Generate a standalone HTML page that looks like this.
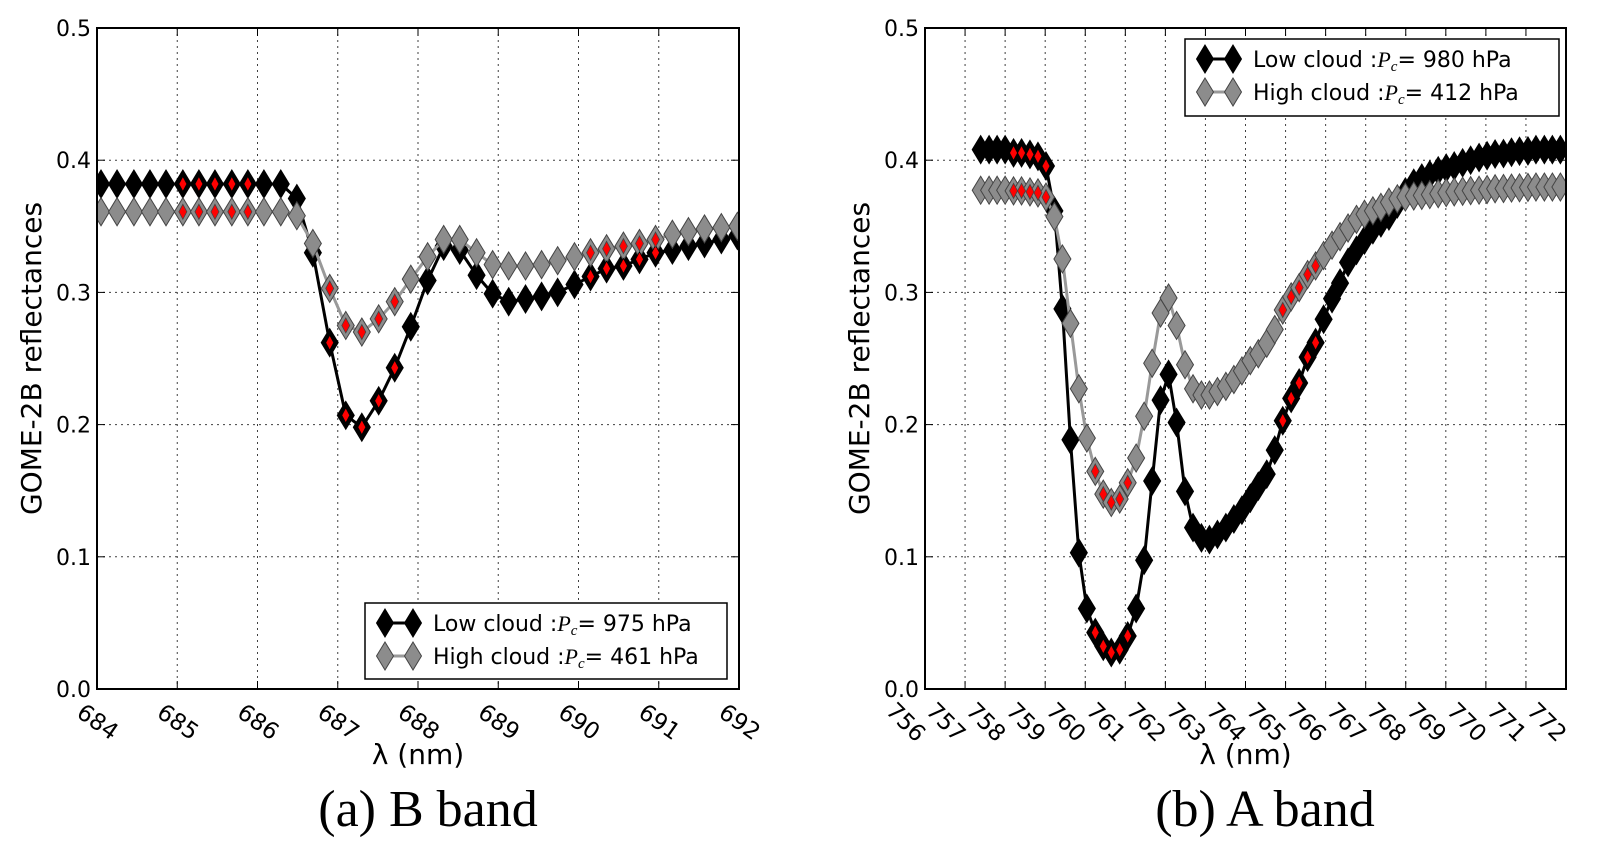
<!DOCTYPE html>
<html><head><meta charset="utf-8"><style>
html,body{margin:0;padding:0;background:#fff;}
svg{display:block;}
text{font-family:"DejaVu Sans","Liberation Sans",sans-serif;fill:#000;}
.cap{font-family:"Liberation Serif",serif;}
</style></head><body>
<svg id="fig" width="1604" height="851" viewBox="0 0 1604 851" xmlns="http://www.w3.org/2000/svg"></svg>
<script>
// ---- Panel (a) B band data ----
const bWave = [684.05,684.25,684.46,684.66,684.86,685.07,685.27,685.47,685.68,685.88,686.08,686.29,686.49,686.69,686.90,687.10,687.30,687.51,687.71,687.91,688.12,688.32,688.52,688.73,688.93,689.13,689.34,689.54,689.74,689.95,690.15,690.35,690.56,690.76,690.96,691.17,691.37,691.57,691.78,691.98];
const bLow = [0.382,0.382,0.382,0.382,0.382,0.382,0.382,0.382,0.382,0.382,0.382,0.382,0.371,0.330,0.262,0.207,0.198,0.218,0.243,0.274,0.309,0.335,0.332,0.313,0.299,0.293,0.295,0.297,0.300,0.306,0.312,0.318,0.320,0.325,0.330,0.332,0.335,0.337,0.340,0.343];
const bHigh = [0.361,0.361,0.361,0.361,0.361,0.361,0.361,0.361,0.361,0.361,0.361,0.361,0.358,0.337,0.303,0.275,0.270,0.280,0.293,0.310,0.327,0.340,0.340,0.330,0.321,0.320,0.320,0.321,0.324,0.327,0.330,0.333,0.335,0.337,0.340,0.344,0.346,0.348,0.349,0.350];
const bRed = [5,6,7,8,9,14,15,16,17,18,30,31,32,33,34];
const bTicks = [684,685,686,687,688,689,690,691,692];

// ---- Panel (b) A band data ----
const aWave = [757.39,757.60,757.80,758.00,758.21,758.41,758.62,758.82,759.02,759.23,759.43,759.63,759.84,760.04,760.25,760.45,760.65,760.86,761.06,761.27,761.47,761.67,761.88,762.08,762.28,762.49,762.69,762.90,763.10,763.30,763.51,763.71,763.91,764.12,764.32,764.53,764.73,764.93,765.14,765.34,765.55,765.75,765.95,766.16,766.36,766.56,766.77,766.97,767.18,767.38,767.58,767.79,767.99,768.20,768.40,768.60,768.81,769.01,769.21,769.42,769.62,769.83,770.03,770.23,770.44,770.64,770.84,771.05,771.25,771.46,771.66,771.86];
const aLow = [0.408,0.408,0.408,0.408,0.4055,0.4055,0.4044,0.4029,0.3956,0.3617,0.2875,0.1885,0.1031,0.0609,0.0427,0.0323,0.0276,0.0297,0.0401,0.0609,0.0974,0.1573,0.2185,0.238,0.2016,0.1495,0.1221,0.1143,0.113,0.1169,0.1221,0.1286,0.1352,0.1443,0.1534,0.1625,0.1807,0.2029,0.2198,0.2315,0.251,0.262,0.2797,0.2953,0.307,0.3227,0.3318,0.3396,0.3474,0.3526,0.3578,0.3669,0.376,0.3826,0.3865,0.389,0.392,0.394,0.3956,0.398,0.400,0.402,0.4034,0.4047,0.405,0.406,0.4068,0.407,0.408,0.408,0.408,0.408];
const aHigh = [0.3773,0.3773,0.3773,0.3773,0.3768,0.3768,0.376,0.3753,0.3721,0.3573,0.3253,0.2766,0.2271,0.1898,0.1646,0.1474,0.1411,0.1437,0.156,0.1747,0.2063,0.2464,0.2844,0.2958,0.275,0.2453,0.2271,0.2224,0.2224,0.225,0.2289,0.2341,0.2406,0.2484,0.2536,0.2615,0.2719,0.2867,0.2966,0.3036,0.3135,0.32,0.3279,0.3357,0.3422,0.3487,0.3552,0.3591,0.3617,0.3643,0.3682,0.3708,0.3721,0.3729,0.3734,0.374,0.3747,0.3755,0.376,0.3765,0.377,0.3773,0.3778,0.3784,0.3786,0.3789,0.3791,0.3794,0.3797,0.3797,0.3797,0.3797];
const aRed = [4,5,6,7,8,14,15,16,17,18,37,38,39,40,41];
const aTicks = [756,757,758,759,760,761,762,763,764,765,766,767,768,769,770,771,772];
const yTicks = [0.0,0.1,0.2,0.3,0.4,0.5];
const yTickLabels = ["0.0","0.1","0.2","0.3","0.4","0.5"];

const NS = "http://www.w3.org/2000/svg";
const svg = document.getElementById('fig');
function mk(tag, attrs, parent){
  const e = document.createElementNS(NS, tag);
  for (const k in attrs) e.setAttribute(k, attrs[k]);
  (parent||svg).appendChild(e);
  return e;
}
function diamond(cx, cy, w, h){
  return `M${cx},${cy-h/2} L${cx+w/2},${cy} L${cx},${cy+h/2} L${cx-w/2},${cy} Z`;
}

function panel(opt){
  const {id, L, R, T, B, xmin, xmax, ticks, wave, low, high, red, caption, capX, lowLabel, highLabel, leg, tickAlign} = opt;
  const g = mk('g', {});
  
  
  const xs = v => L + (v - xmin) / (xmax - xmin) * (R - L);
  const ys = v => B - v / 0.5 * (B - T);
  const clip = mk('clipPath', {id: id + '-clip'}, g);
  mk('rect', {x: L, y: T, width: R - L, height: B - T}, clip);

  const grid = mk('g', {stroke: '#000', 'stroke-width': 1, 'stroke-dasharray': '2,4', opacity: 0.75}, g);
  
  
  ticks.forEach(t => { const x = xs(t); mk('line', {x1: x, x2: x, y1: T, y2: B}, grid); });
  yTicks.forEach(t => { const y = ys(t); mk('line', {x1: L, x2: R, y1: y, y2: y}, grid); });

  const plot = mk('g', {'clip-path': `url(#${id}-clip)`}, g);
  function series(vals, lineCol, fill, edge, name){
    const sg = mk('g', {}, plot);
    
    
    const pts = vals.map((v, i) => xs(wave[i]) + ',' + ys(v)).join(' ');
    mk('polyline', {points: pts, fill: 'none', stroke: lineCol, 'stroke-width': 3, 'stroke-linejoin': 'round'}, sg);
    vals.forEach((v, i) => {
      const p = mk('path', {d: diamond(xs(wave[i]), ys(v), 17, 28), fill: fill, stroke: edge, 'stroke-width': 1}, sg);
      
      
    });
  }
  series(low, '#000', '#000', '#000', id + '-low-cloud-series');
  series(high, '#999', '#8c8c8c', '#444', id + '-high-cloud-series');
  const rg = mk('g', {}, plot);
  
  
  red.forEach(i => {
    mk('path', {d: diamond(xs(wave[i]), ys(low[i]), 8, 15), fill: '#f00', stroke: '#000', 'stroke-width': 0.8}, rg);
    mk('path', {d: diamond(xs(wave[i]), ys(high[i]), 8, 15), fill: '#f00', stroke: '#444', 'stroke-width': 0.8}, rg);
  });

  const fr = mk('rect', {x: L, y: T, width: R - L, height: B - T, fill: 'none', stroke: '#000', 'stroke-width': 2}, g);
  
  

  const tk = mk('g', {stroke: '#000', 'stroke-width': 1}, g);
  ticks.forEach(t => { const x = xs(t);
    mk('line', {x1: x, x2: x, y1: B, y2: B - 8}, tk); mk('line', {x1: x, x2: x, y1: T, y2: T + 8}, tk); });
  yTicks.forEach(t => { const y = ys(t);
    mk('line', {x1: L, x2: L + 8, y1: y, y2: y}, tk); mk('line', {x1: R, x2: R - 8, y1: y, y2: y}, tk); });

  ticks.forEach(t => {
    const x = xs(t);
    let el;
    if (tickAlign === 'center') {
      el = mk('text', {x: 0, y: 0, 'font-size': 23, 'text-anchor': 'middle', 'dominant-baseline': 'middle', transform: `translate(${x},${B + 34}) rotate(35)`}, g);
    } else {
      el = mk('text', {x: 0, y: 0, 'font-size': 23, 'text-anchor': 'middle', 'dominant-baseline': 'middle', transform: `translate(${x - 20},${B + 34}) rotate(45)`}, g);
    }
    el.textContent = t;
    
    
  });
  yTicks.forEach((t, i) => {
    const el = mk('text', {x: L - 6, y: ys(t) + 8, 'font-size': 22, 'text-anchor': 'end'}, g);
    el.textContent = yTickLabels[i];
    
    
  });
  const xt = mk('text', {x: (L + R) / 2, y: 764, 'font-size': 28, 'text-anchor': 'middle'}, g);
  xt.textContent = 'λ (nm)';
  
  
  const yt = mk('text', {x: 0, y: 0, 'font-size': 28, 'text-anchor': 'middle', transform: `translate(${L - 56},${(T + B) / 2}) rotate(-90)`}, g);
  yt.textContent = 'GOME-2B reflectances';
  
  
  const cp = mk('text', {x: capX, y: 826, 'font-size': 52, 'text-anchor': 'middle', class: 'cap'}, g);
  cp.textContent = caption;
  
  

  const lg = mk('g', {}, g);
  
  
  mk('rect', {x: leg.x, y: leg.y, width: leg.w, height: leg.h, fill: '#fff', stroke: '#000', 'stroke-width': 1.5}, lg);
  const rows = [[lowLabel, '#000', '#000', '#000'], [highLabel, '#999', '#8c8c8c', '#444']];
  rows.forEach((r, i) => {
    const cy = leg.y + 20 + i * 33;
    const ent = mk('g', {}, lg);
    
    
    mk('line', {x1: leg.x + 20, x2: leg.x + 48, y1: cy, y2: cy, stroke: r[1], 'stroke-width': 3}, ent);
    mk('path', {d: diamond(leg.x + 20, cy, 17, 28), fill: r[2], stroke: r[3], 'stroke-width': 1}, ent);
    mk('path', {d: diamond(leg.x + 48, cy, 17, 28), fill: r[2], stroke: r[3], 'stroke-width': 1}, ent);
    const tx = mk('text', {x: leg.x + 68, y: cy + 8, 'font-size': 22}, ent);
    const parts = r[0];
    const t1 = mk('tspan', {}, tx); t1.textContent = parts[0];
    const t2 = mk('tspan', {'font-family': 'Liberation Serif, serif', 'font-style': 'italic'}, tx); t2.textContent = 'P';
    const t3 = mk('tspan', {'font-family': 'Liberation Serif, serif', 'font-style': 'italic', 'font-size': 15, dy: 4}, tx); t3.textContent = 'c';
    const t4 = mk('tspan', {dy: -4}, tx); t4.textContent = parts[1];
  });
}

panel({id: 'b-band', L: 97, R: 739, T: 28, B: 689, xmin: 684, xmax: 692, ticks: bTicks,
  wave: bWave, low: bLow, high: bHigh, red: bRed, caption: '(a) B band', capX: 428,
  lowLabel: ['Low cloud :', '= 975 hPa'], highLabel: ['High cloud :', '= 461 hPa'],
  leg: {x: 365, y: 603, w: 362, h: 76}, tickAlign: 'center'});
panel({id: 'a-band', L: 925, R: 1566, T: 28, B: 689, xmin: 756, xmax: 772, ticks: aTicks,
  wave: aWave, low: aLow, high: aHigh, red: aRed, caption: '(b) A band', capX: 1265,
  lowLabel: ['Low cloud :', '= 980 hPa'], highLabel: ['High cloud :', '= 412 hPa'],
  leg: {x: 1185, y: 39, w: 374, h: 77}, tickAlign: 'end'});
</script>
</body></html>
